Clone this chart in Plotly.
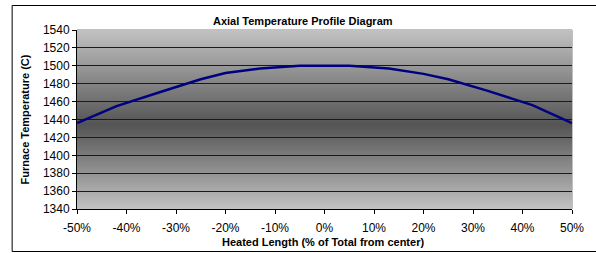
import base64
import plotly.graph_objects as go

# Data
position_pct = [-50, -42, -33, -25, -20, -13, -5, 0, 5, 13, 20, 25, 33, 42, 50]
temperature_c = [1436, 1455, 1471, 1485, 1492, 1497, 1500, 1500, 1500, 1497, 1491, 1485, 1472, 1456, 1436]

x_ticks = [-50, -40, -30, -20, -10, 0, 10, 20, 30, 40, 50]
x_tick_labels = [f"{v}%" for v in x_ticks]
y_ticks = list(range(1340, 1541, 20))

title_text = "Axial Temperature Profile Diagram"
x_title = "Heated Length (% of Total from center)"
y_title = "Furnace Temperature (C)"

W, H = 596, 253
ML, MR, MT, MB = 77, 19, 30, 44
PW, PH = W - ML - MR, H - MT - MB

def px_x(px):
    return (px - ML) / PW

def px_y(py):
    return (H - MB - py) / PH

fig = go.Figure()
fig.add_trace(go.Scatter(
    x=position_pct, y=temperature_c, mode="lines",
    line=dict(color="#000080", width=2.5), showlegend=False,
    hoverinfo="x+y",
))

# gradient background: light top, dark middle, light bottom
svg = (
    '<svg xmlns="http://www.w3.org/2000/svg" width="100" height="100" preserveAspectRatio="none">'
    '<defs><linearGradient id="g" x1="0" y1="0" x2="0" y2="1">'
    '<stop offset="0" stop-color="#c2c2c2"/>'
    '<stop offset="0.53" stop-color="#545454"/>'
    '<stop offset="1" stop-color="#c2c2c2"/>'
    '</linearGradient></defs>'
    '<rect x="0" y="0" width="100" height="100" fill="url(#g)"/></svg>'
)
bg_src = "data:image/svg+xml;base64," + base64.b64encode(svg.encode()).decode()

shapes = [
    # plot area border (gray)
    dict(type="rect", xref="x domain", yref="y domain", x0=0, x1=1, y0=0, y1=1,
         layer="below", line=dict(color="#808080", width=1)),
    # outer chart border
    dict(type="rect", xref="paper", yref="paper",
         x0=px_x(11.5), x1=px_x(605), y0=px_y(251.5), y1=px_y(5.5),
         line=dict(color="#000000", width=1)),
]

font_family = "Liberation Sans, Arial, sans-serif"
annotations = [
    dict(text=f"<b>{title_text}</b>", x=px_x(305), y=px_y(21), xref="paper", yref="paper",
         showarrow=False, xanchor="center", yanchor="middle",
         font=dict(size=11, color="#000", family=font_family)),
    dict(text=f"<b>{x_title}</b>", x=px_x(325), y=px_y(241.5), xref="paper", yref="paper",
         showarrow=False, xanchor="center", yanchor="middle",
         font=dict(size=11, color="#000", family=font_family)),
    dict(text=f"<b>{y_title}</b>", x=px_x(23.5), y=px_y(119.5), xref="paper", yref="paper",
         showarrow=False, xanchor="center", yanchor="middle", textangle=-90,
         font=dict(size=11, color="#000", family=font_family)),
]

fig.update_layout(
    width=W, height=H,
    margin=dict(l=ML, r=MR, t=MT, b=MB, pad=0),
    paper_bgcolor="#ffffff", plot_bgcolor="rgba(0,0,0,0)",
    font=dict(family=font_family, size=12, color="#000"),
    shapes=shapes, annotations=annotations,
    images=[dict(source=bg_src, xref="x domain", yref="y domain", x=0, y=1,
                 sizex=1, sizey=1, sizing="stretch", xanchor="left", yanchor="top",
                 layer="below")],
    xaxis=dict(range=[-50, 50], tickvals=x_ticks, ticktext=x_tick_labels,
               showgrid=False, zeroline=False, showline=True, linecolor="#000",
               linewidth=1, ticks="outside", ticklen=4, tickcolor="#000",
               ticklabelstandoff=4, fixedrange=True),
    yaxis=dict(range=[1340, 1540], tickvals=y_ticks, showgrid=True,
               gridcolor="#1a1a1a", gridwidth=1, zeroline=False, showline=True,
               linecolor="#000", linewidth=1, ticks="outside", ticklen=4,
               tickcolor="#000", fixedrange=True),
)

fig.write_html("out.html", config={"displayModeBar": False},
               post_script="document.body.style.margin='0';document.body.style.overflow='hidden';")
